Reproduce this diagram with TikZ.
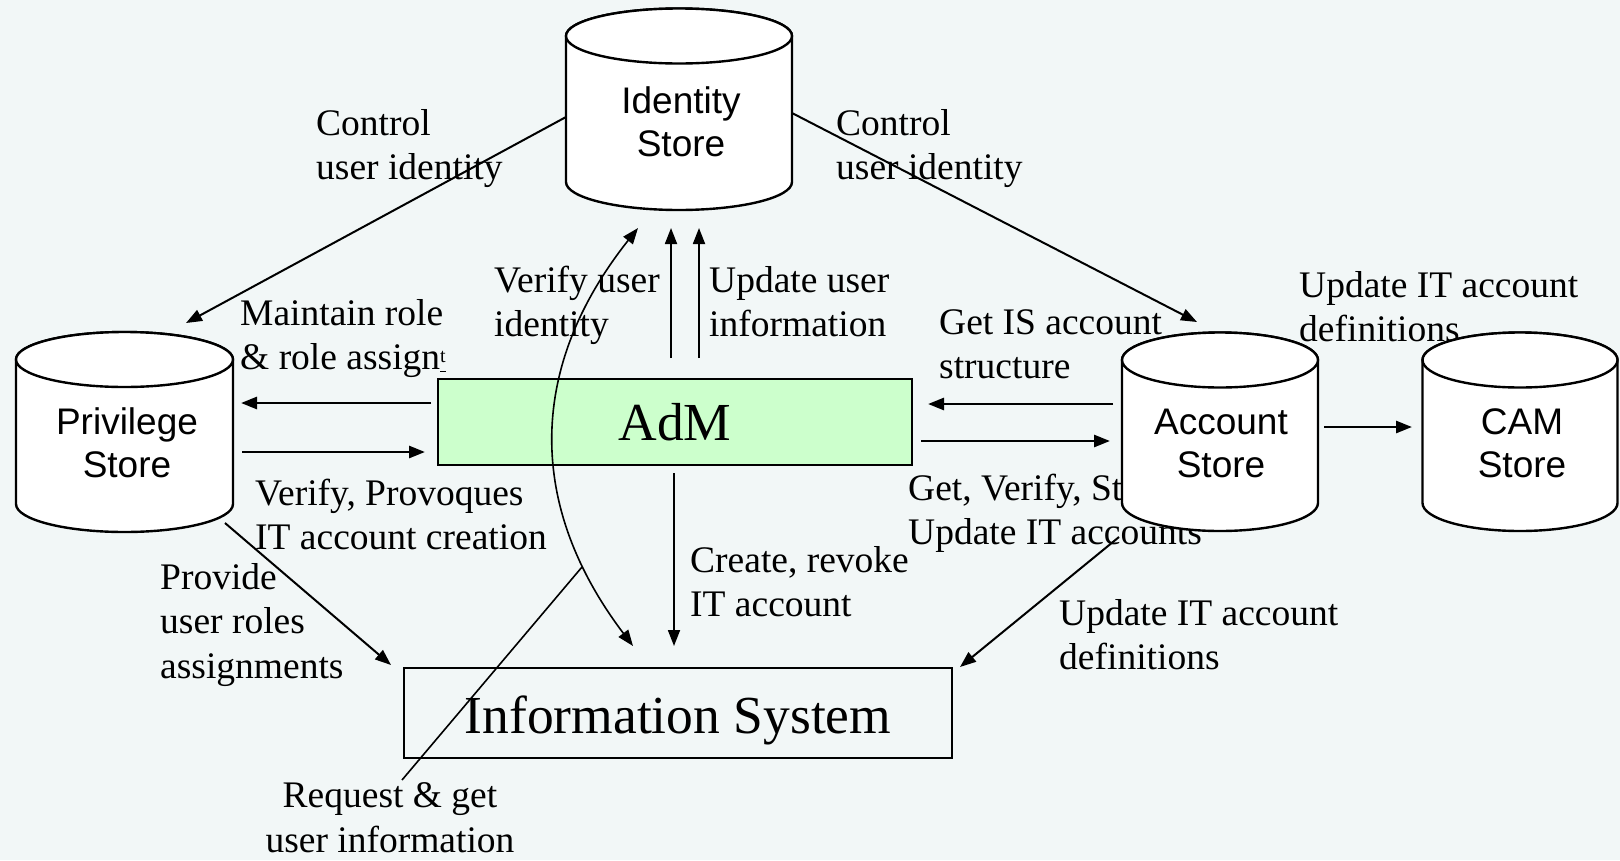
\documentclass[tikz,border=0pt]{standalone}
\usepackage{fontspec}
\setmainfont{Liberation Serif}
\newfontfamily\cylfont{Liberation Sans}
\usetikzlibrary{arrows.meta,calc}
\definecolor{bgcol}{RGB}{242,247,247}
\definecolor{admgreen}{RGB}{204,255,204}

% database cylinder: name, centre x, x radius, top-ellipse centre y, y radius, side bottom y, label x, label baseline y (last line), label
\newcommand\storecyl[9]{%
  \filldraw[cylline] (#2-#3,#4) -- (#2-#3,#6)
     arc[start angle=180,end angle=0,x radius=#3,y radius=#5+0.5]
     -- (#2+#3,#4)
     arc[start angle=0,end angle=-180,x radius=#3,y radius=#5] -- cycle;
  \draw[cylline] (#2,#4) ellipse[x radius=#3,y radius=#5];
  \node[cyltext] (#1) at (#7,#8) {#9};
}

\begin{document}
\begin{tikzpicture}[x=1pt,y=-1pt,
  lbl/.style={font=\fontsize{37.5}{44.5}\selectfont, align=left, anchor=base west, inner sep=0pt},
  cyltext/.style={font=\cylfont\fontsize{37}{43}\selectfont, align=center, anchor=base, inner sep=0pt},
  cylline/.style={line width=2.4pt, fill=white, draw=black},
  tip/.tip={Triangle[length=16pt,width=12pt]},
  flow/.style={-tip, line width=2pt},
  thick flow/.style={-tip, line width=2.7pt},
  thin flow/.style={-tip, line width=1.8pt},
  bigbox/.style={draw=black, inner sep=0pt, text depth=0pt,
    font=\fontsize{53.5}{60}\selectfont}
]
\fill[bgcol] (0,0) rectangle (1620,860);
\useasboundingbox (0,0) rectangle (1620,860);

% flow labels (positions give the baseline of the last line)
\node[lbl] (tCtlL) at (316,179.5) {Control\\user identity};
\node[lbl] (tCtlR) at (836,179.5) {Control\\user identity};
\node[lbl] (tMaint) at (240,369.5) {Maintain role\\\& role assign\underline{\raisebox{7pt}{\fontsize{20}{20}\selectfont t}}};
\node[lbl] (tVerU) at (494,336.5) {Verify user\\identity};
\node[lbl] (tUpdU) at (709,336.5) {Update user\\information};
\node[lbl] (tGetIS) at (939,378.5) {Get IS account\\structure};
\node[lbl] (tUpdCam) at (1299,341.5) {Update IT account\\definitions};
\node[lbl] (tProv) at (255,549.5) {Verify, Provoques\\IT account creation};
\node[lbl] (tGetV) at (908,544.5) {Get, Verify, Store,\\Update IT accounts};
\node[lbl] (tRoles) at (160,678) {Provide\\user roles\\assignments};
\node[lbl] (tCreate) at (690,616.5) {Create, revoke\\IT account};
\node[lbl] (tUpdIS) at (1059,669.5) {Update IT account\\definitions};
\node[lbl, align=center, anchor=base] (tReq) at (390,852) {Request \& get\\user information};

% stores
\storecyl{ids}{679}{113}{36}{27.5}{182}{681}{156}{Identity\\Store}
\storecyl{prv}{124.5}{108.5}{359.5}{27.5}{504}{127}{477}{Privilege\\Store}
\storecyl{acc}{1220}{98}{360}{27.5}{503}{1221}{477}{Account\\Store}
\storecyl{cam}{1520}{97.5}{360}{27.5}{503}{1522}{477}{CAM\\Store}

% processing blocks
\node[bigbox, fill=admgreen, line width=2.4pt, minimum width=474pt, minimum height=86pt, text height=36pt] (adm) at (675,422) {AdM};
\node[bigbox, line width=2.2pt, minimum width=548pt, minimum height=90pt, text height=40pt] (is) at (678,713) {Information System};

% connector end points
\coordinate (idsW) at (566,117);
\coordinate (idsE) at (792,113);
\coordinate (prvTop) at (186,323);
\coordinate (accTop) at (1197,322);
\coordinate (admW1) at (431,403);
\coordinate (prvE1) at (241,403);
\coordinate (prvE2) at (242,452);
\coordinate (admW2) at (425,452);
\coordinate (accW1) at (1113,404);
\coordinate (admE1) at (928,404);
\coordinate (admE2) at (921,441);
\coordinate (accW2) at (1110,441);
\coordinate (accE) at (1324,427);
\coordinate (camW) at (1412,427);
\coordinate (admN1) at (671,358);
\coordinate (idsS1) at (671,228);
\coordinate (admN2) at (699,358);
\coordinate (idsS2) at (699,228);
\coordinate (idsS0) at (638,228);
\coordinate (isN0) at (633,646);
\coordinate (admS) at (674,473);
\coordinate (isN) at (674,646);
\coordinate (prvS) at (225,523);
\coordinate (isNW) at (391,665);
\coordinate (accS) at (1119,537);
\coordinate (isNE) at (960,667);
\coordinate (reqA) at (582,567);
\coordinate (reqB) at (402,780);

% connectors
\draw[flow] (idsW) -- (prvTop);
\draw[flow] (idsE) -- (accTop);
\draw[thick flow] (admW1) -- (prvE1);
\draw[thick flow] (prvE2) -- (admW2);
\draw[thick flow] (accW1) -- (admE1);
\draw[thick flow] (admE2) -- (accW2);
\draw[thick flow] (accE) -- (camW);
\draw[thin flow] (admN1) -- (idsS1);
\draw[thin flow] (admN2) -- (idsS2);
\draw[thin flow] (admS) -- (isN);
\draw[tip-tip, line width=1.6pt] (isN0) .. controls (527,506) and (527,368) .. (idsS0);
\draw[flow] (prvS) -- (isNW);
\draw[flow] (accS) -- (isNE);
\draw[line width=1.6pt] (reqA) -- (reqB);
\end{tikzpicture}
\end{document}
